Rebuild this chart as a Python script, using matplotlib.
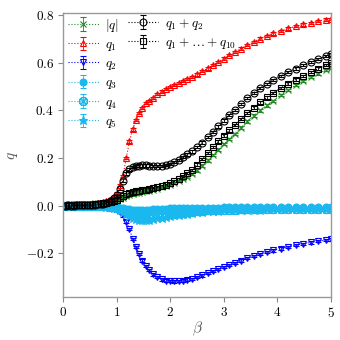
import matplotlib
matplotlib.use("Agg")
import matplotlib.pyplot as plt
from matplotlib.ticker import FuncFormatter, FixedLocator

plt.rcParams['mathtext.fontset'] = 'cm'
plt.rcParams['font.family'] = ['DejaVu Serif']

beta = [0.00,0.05,0.10,0.15,0.20,0.25,0.30,0.35,0.40,0.45,0.50,0.55,0.60,0.65,0.70,0.75,0.80,0.85,0.90,0.95,1.00,
        1.06,1.12,1.18,1.24,1.30,1.36,1.42,1.48,1.54,1.60,
        1.68,1.76,1.84,1.92,2.00,2.08,2.16,2.24,2.32,2.40,
        2.50,2.60,2.70,2.80,2.90,3.00,3.10,3.20,
        3.32,3.44,3.56,3.68,3.80,3.92,
        4.06,4.20,4.34,4.48,4.62,4.76,4.90,5.00]

q_abs = [0.004,0.004,0.004,0.004,0.005,0.005,0.005,0.006,0.006,0.007,0.007,
         0.008,0.009,0.010,0.011,0.012,0.014,0.016,0.018,0.021,0.024,
         0.028,0.033,0.038,0.043,0.047,0.051,0.054,0.057,0.060,0.063,
         0.067,0.071,0.076,0.081,0.087,0.094,0.102,0.111,0.121,0.132,
         0.148,0.168,0.190,0.212,0.235,0.258,0.280,0.302,
         0.328,0.354,0.378,0.400,0.421,0.440,
         0.466,0.487,0.506,0.524,0.540,0.556,0.571,0.580]

q1 = [0.000,0.000,0.001,0.001,0.001,0.002,0.002,0.003,0.003,0.004,0.005,
      0.006,0.007,0.009,0.011,0.014,0.017,0.022,0.028,0.037,0.050,
      0.085,0.125,0.200,0.270,0.320,0.360,0.390,0.410,0.430,0.440,
      0.452,0.468,0.479,0.489,0.498,0.507,0.516,0.525,0.533,0.541,
      0.552,0.565,0.577,0.590,0.604,0.618,0.632,0.645,
      0.660,0.675,0.689,0.702,0.714,0.724,
      0.735,0.745,0.754,0.762,0.769,0.776,0.782,0.786]

q2 = [0.000,0.000,0.000,-0.001,-0.001,-0.001,-0.001,-0.002,-0.002,-0.002,-0.003,
      -0.003,-0.004,-0.004,-0.005,-0.006,-0.007,-0.009,-0.011,-0.014,-0.018,
      -0.028,-0.042,-0.068,-0.100,-0.140,-0.175,-0.205,-0.232,-0.255,-0.272,
      -0.290,-0.302,-0.311,-0.316,-0.318,-0.319,-0.318,-0.316,-0.312,-0.308,
      -0.302,-0.294,-0.285,-0.276,-0.267,-0.258,-0.250,-0.242,
      -0.232,-0.222,-0.213,-0.204,-0.196,-0.189,
      -0.181,-0.174,-0.167,-0.161,-0.155,-0.150,-0.146,-0.143]

q3 = [0.000,0.000,0.000,0.000,0.000,0.000,0.000,-0.001,-0.001,-0.001,-0.001,
      -0.002,-0.002,-0.002,-0.003,-0.003,-0.004,-0.005,-0.006,-0.007,-0.008,
      -0.010,-0.012,-0.014,-0.016,-0.017,-0.018,-0.018,-0.018,-0.018,-0.017,
      -0.016,-0.015,-0.014,-0.013,-0.012,-0.012,-0.011,-0.011,-0.010,-0.010,
      -0.010,-0.009,-0.009,-0.009,-0.009,-0.008,-0.008,-0.008,
      -0.008,-0.008,-0.008,-0.008,-0.008,-0.008,
      -0.008,-0.008,-0.008,-0.008,-0.008,-0.008,-0.008,-0.008]

q4 = [0.000,0.000,0.000,0.000,0.000,0.000,-0.001,-0.001,-0.001,-0.001,-0.001,
      -0.002,-0.002,-0.003,-0.003,-0.004,-0.004,-0.005,-0.006,-0.008,-0.010,
      -0.014,-0.019,-0.024,-0.029,-0.033,-0.036,-0.039,-0.041,-0.042,-0.043,
      -0.043,-0.042,-0.041,-0.039,-0.037,-0.035,-0.033,-0.031,-0.029,-0.027,
      -0.025,-0.023,-0.021,-0.020,-0.019,-0.018,-0.017,-0.017,
      -0.016,-0.016,-0.015,-0.015,-0.015,-0.014,
      -0.014,-0.014,-0.014,-0.013,-0.013,-0.013,-0.013,-0.013]

q5 = [0.000,0.000,0.000,0.000,0.000,-0.001,-0.001,-0.001,-0.001,-0.001,-0.002,
      -0.002,-0.002,-0.003,-0.003,-0.004,-0.005,-0.006,-0.007,-0.009,-0.012,
      -0.018,-0.026,-0.035,-0.044,-0.051,-0.056,-0.059,-0.060,-0.060,-0.059,
      -0.057,-0.054,-0.051,-0.048,-0.045,-0.042,-0.039,-0.036,-0.034,-0.032,
      -0.029,-0.027,-0.025,-0.023,-0.022,-0.021,-0.020,-0.019,
      -0.018,-0.018,-0.017,-0.017,-0.016,-0.016,
      -0.016,-0.015,-0.015,-0.015,-0.015,-0.014,-0.014,-0.014]

q12 = [0.000,0.000,0.001,0.000,0.000,0.001,0.001,0.001,0.001,0.002,0.002,
       0.003,0.004,0.005,0.006,0.008,0.011,0.015,0.021,0.030,0.045,
       0.070,0.105,0.135,0.152,0.162,0.166,0.168,0.169,0.169,0.168,
       0.167,0.166,0.167,0.170,0.175,0.182,0.192,0.203,0.215,0.228,
       0.245,0.265,0.287,0.310,0.333,0.357,0.380,0.402,
       0.428,0.452,0.474,0.494,0.512,0.528,
       0.545,0.561,0.576,0.590,0.603,0.616,0.628,0.636]

q1to10 = [0.000,0.000,0.001,0.001,0.001,0.001,0.002,0.002,0.002,0.003,0.003,
          0.004,0.005,0.006,0.007,0.009,0.011,0.013,0.016,0.020,0.025,
          0.032,0.040,0.048,0.054,0.058,0.061,0.063,0.065,0.067,0.069,
          0.072,0.076,0.081,0.087,0.094,0.102,0.112,0.123,0.136,0.150,
          0.172,0.196,0.220,0.245,0.270,0.294,0.316,0.338,
          0.363,0.388,0.412,0.434,0.455,0.474,
          0.494,0.513,0.530,0.546,0.561,0.576,0.590,0.600]

err = 0.005

labels = [r'$|q|$', r'$q_1$', r'$q_2$', r'$q_3$', r'$q_4$', r'$q_5$',
          r'$q_1+q_2$', r'$q_1+\ldots+q_{10}$']

fig = plt.figure(figsize=(3.4, 3.4), dpi=100)
ax = fig.add_axes([63/340, 43/340, 268/340, 284/340])

cyan = '#1ab8ee'
styles = [
    (q_abs, 'forestgreen', 'x', 'forestgreen', 5.0),
    (q1, 'red', '^', 'none', 5.0),
    (q2, 'blue', 'v', 'none', 5.0),
    (q3, cyan, 'o', cyan, 5.0),
    (q4, cyan, r'$\otimes$', cyan, 6.0),
    (q5, cyan, '*', cyan, 6.5),
    (q12, 'black', 'o', 'none', 5.0),
    (q1to10, 'black', 's', 'none', 5.0),
]

handles = []
for (vals, col, mk, fc, ms), lab in zip(styles, labels):
    h = ax.errorbar(beta, vals, yerr=err, color=col, ls=':', lw=0.8,
                    marker=mk, ms=ms, mfc=fc, mec=col, mew=0.8,
                    capsize=2, elinewidth=0.6, capthick=0.6, label=lab)
    handles.append(h)

ax.set_xlim(0, 5)
ax.set_ylim(-0.385, 0.81)
ax.xaxis.set_major_locator(FixedLocator([0, 1, 2, 3, 4, 5]))
ax.yaxis.set_major_locator(FixedLocator([-0.2, 0.0, 0.2, 0.4, 0.6, 0.8]))
ax.xaxis.set_major_formatter(FuncFormatter(lambda v, p: r'$%d$' % round(v)))
ax.yaxis.set_major_formatter(FuncFormatter(lambda v, p: r'$%.1f$' % v))
ax.tick_params(labelsize=9.5, colors='#888888', labelcolor='black',
               length=3.5, width=0.8, pad=3)
for s in ax.spines.values():
    s.set_color('#999999')
    s.set_linewidth(1.0)
ax.set_xlabel(r'$\beta$', fontsize=11, color='#555555', labelpad=0)
ax.set_ylabel(r'$q$', fontsize=11, color='#555555', labelpad=4)

leg1 = ax.legend(handles[:6], labels[:6], loc='upper left',
                 bbox_to_anchor=(-0.01, 1.015), frameon=False, fontsize=9.5,
                 handlelength=2.3, labelspacing=0.32, handletextpad=0.5,
                 borderaxespad=0.2)
ax.add_artist(leg1)
ax.legend(handles[6:], labels[6:], loc='upper left',
          bbox_to_anchor=(0.212, 1.015), frameon=False, fontsize=9.5,
          handlelength=2.3, labelspacing=0.32, handletextpad=0.5,
          borderaxespad=0.2)

fig.savefig('out.png', dpi=100)
